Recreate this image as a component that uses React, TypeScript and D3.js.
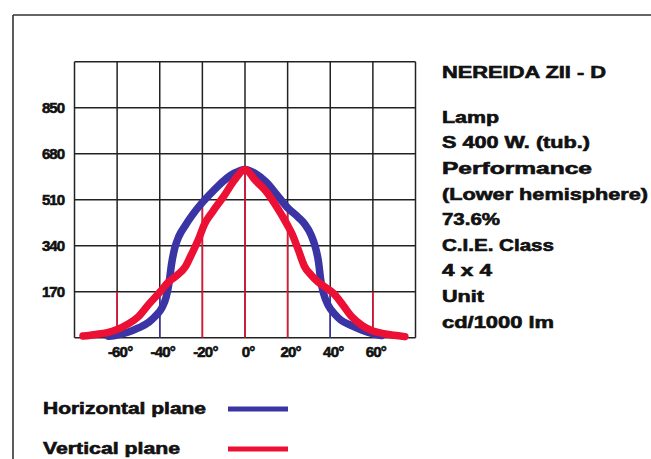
import React from "react";
import * as d3 from "d3";

const yTicks = [170, 340, 510, 680, 850];
const xTickAngles = [-60, -40, -20, 0, 20, 40, 60];
const xGridAngles = [-80, -60, -40, -20, 0, 20, 40, 60, 80];
const yGridValues = [0, 170, 340, 510, 680, 850, 1020];

const hAngles = [-64, -60, -55, -50, -45, -42, -39, -37, -35.5, -34.5, -33, -31, -28, -25, -20, -15, -10, -5, 0, 5, 10, 15, 20, 25, 28, 31, 33, 34.5, 35.5, 37, 39, 42, 45, 50, 55, 60, 64];
const hValues = [5, 10, 20, 36, 58, 80, 110, 150, 210, 270, 330, 375, 415, 450, 500, 542, 580, 608, 622, 606, 575, 528, 480, 445, 420, 380, 335, 280, 215, 160, 120, 88, 65, 45, 28, 15, 8];

const vAngles = [-76, -70, -65, -60, -55, -50, -45, -40, -36, -32, -28, -25, -22, -19, -15, -10, -5, 0, 5, 10, 15, 20, 22, 25, 28, 31, 34, 38, 42, 46, 50, 55, 60, 65, 70, 75];
const vValues = [6, 12, 18, 30, 50, 78, 125, 168, 205, 230, 262, 310, 360, 420, 468, 522, 582, 622, 580, 540, 482, 415, 385, 325, 262, 232, 208, 185, 160, 120, 78, 45, 25, 15, 9, 4];

const gridTintAngles = [-60, -40, -20, 0, 20, 40, 60];
const gridTintSeries = ["v", "h", "v", "v", "v", "h", "v"];

const title = "NEREIDA ZII - D";
const infoLines = ["Lamp", "S 400 W. (tub.)", "Performance", "(Lower hemisphere)", "73.6%", "C.I.E. Class", "4 x 4", "Unit", "cd/1000 lm"];
const infoWidths = [57, 148, 150, 206, 58, 112, 50, 42, 112];
const legendLabels = ["Horizontal plane", "Vertical plane"];
const legendWidths = [163, 137];

const BLUE = "#3a34a4";
const RED = "#ec1035";
const FONT = "'Liberation Sans', Arial, sans-serif";

export default function App() {
  const W = 651, H = 459;
  const x = d3.scaleLinear().domain([-80, 80]).range([74.5, 415.5]);
  const y = d3.scaleLinear().domain([0, 1020]).range([337.7, 61.7]);

  const line = d3
    .line<[number, number]>()
    .x((d) => x(d[0]))
    .y((d) => y(d[1]))
    .curve(d3.curveMonotoneX);

  const hData: [number, number][] = hAngles.map((a, i) => [a, hValues[i]]);
  const vData: [number, number][] = vAngles.map((a, i) => [a, vValues[i]]);

  const interp = (angles: number[], vals: number[], a: number) => {
    if (a <= angles[0] || a >= angles[angles.length - 1]) return 0;
    for (let i = 0; i < angles.length - 1; i++) {
      if (a >= angles[i] && a <= angles[i + 1]) {
        const t = (a - angles[i]) / (angles[i + 1] - angles[i]);
        return vals[i] + t * (vals[i + 1] - vals[i]);
      }
    }
    return 0;
  };

  const textStyle: React.CSSProperties = { fontFamily: FONT, fontWeight: 700 };
  const bold = { stroke: "#111", strokeWidth: 0.6 };

  return (
    <svg width={W} height={H} style={{ position: "absolute", left: 0, top: 0, background: "#fff" }}>
      <rect x={0} y={0} width={W} height={H} fill="#fff" />
      {/* frame */}
      <line x1={13} y1={15} x2={W} y2={15} stroke="#333" strokeWidth={1.6} />
      <line x1={13} y1={15} x2={13} y2={H} stroke="#333" strokeWidth={1.6} />

      {/* grid */}
      {yGridValues.map((v) => (
        <line key={"hy" + v} x1={x(-80)} x2={x(80)} y1={y(v)} y2={y(v)} stroke="#222" strokeWidth={1.5} />
      ))}
      {xGridAngles.map((a) => (
        <line key={"vx" + a} x1={x(a)} x2={x(a)} y1={y(0)} y2={y(1020)} stroke="#222" strokeWidth={1.5} />
      ))}
      {gridTintAngles.map((a, i) => {
        const top = Math.max(170, interp(hAngles, hValues, a), interp(vAngles, vValues, a));
        return (
          <line
            key={"tint" + a}
            x1={x(a)}
            x2={x(a)}
            y1={y(0)}
            y2={y(top)}
            stroke={gridTintSeries[i] === "h" ? BLUE : RED}
            strokeWidth={1.5}
          />
        );
      })}

      {/* curves */}
      <path d={line(hData) || ""} fill="none" stroke={BLUE} strokeWidth={7.5} strokeLinejoin="round" strokeLinecap="round" />
      <path d={line(vData) || ""} fill="none" stroke={RED} strokeWidth={7.5} strokeLinejoin="round" strokeLinecap="round" />

      {/* y labels */}
      {yTicks.map((v) => (
        <text key={"yl" + v} x={64} y={y(v)} dy="0.36em" textAnchor="end" fontSize={15} style={textStyle} {...bold} fill="#111" letterSpacing={-1}>
          {v}
        </text>
      ))}
      {/* x labels */}
      {xTickAngles.map((a) => (
        <text key={"xl" + a} x={x(a) + 3} y={357} textAnchor="middle" fontSize={15} style={textStyle} {...bold} fill="#111" letterSpacing={-0.8}>
          {a + "°"}
        </text>
      ))}

      {/* title and info */}
      <text x={442} y={78} fontSize={16} style={textStyle} {...bold} fill="#111" textLength={164} lengthAdjust="spacingAndGlyphs">
        {title}
      </text>
      {infoLines.map((t, i) => (
        <text
          key={"info" + i}
          x={442}
          y={117 + i * 25.6}
          dy="0.36em"
          fontSize={16}
          style={textStyle}
          {...bold}
          fill="#111"
          textLength={infoWidths[i]}
          lengthAdjust="spacingAndGlyphs"
        >
          {t}
        </text>
      ))}

      {/* legend */}
      {legendLabels.map((t, i) => (
        <g key={"leg" + i}>
          <text
            x={43}
            y={408 + i * 40}
            dy="0.36em"
            fontSize={16}
            style={textStyle}
            {...bold}
            fill="#111"
            textLength={legendWidths[i]}
            lengthAdjust="spacingAndGlyphs"
          >
            {t}
          </text>
          <line x1={228} x2={288} y1={409 + i * 40} y2={409 + i * 40} stroke={i === 0 ? BLUE : RED} strokeWidth={5} />
        </g>
      ))}
    </svg>
  );
}
